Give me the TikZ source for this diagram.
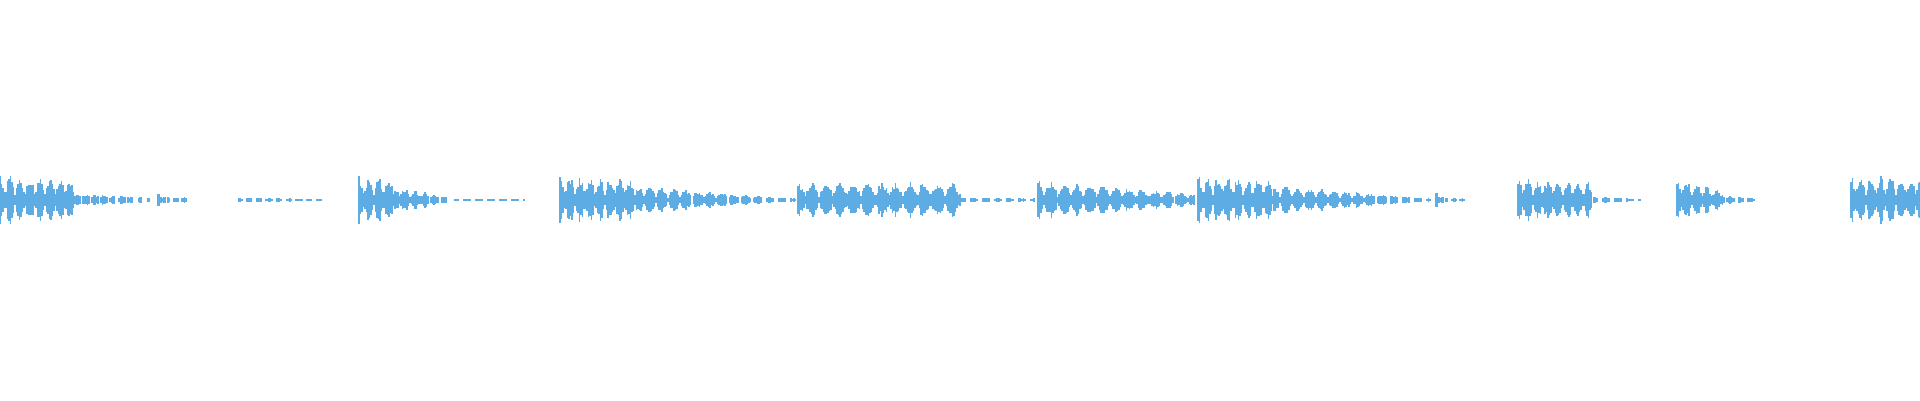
\documentclass[tikz,border=0pt]{standalone}
\definecolor{wavec}{RGB}{94,172,228}
\tikzset{wave/.style={draw=wavec,line width=1.1pt}}
\newcommand\wseg[5]{%
 \pgfmathsetmacro\nb{int((#2-#1)/1.5)}%
 \foreach \i in {0,...,\nb}{%
  \pgfmathsetmacro\xx{#1+1.5*\i}%
  \pgfmathsetmacro\wt{\i/max(\nb,1)}%
  \pgfmathsetmacro\ph{mod(1.5*\i,#5)/#5}%
  \pgfmathsetmacro\cc{abs(cos(180*\ph))}%
  \pgfmathsetmacro\aa{0.6+(#3+(#4-#3)*\wt)*(0.6+0.4*rnd)*(0.25+0.75*\cc)}%
  \pgfmathsetmacro\keep{(\aa>2.2) || (\cc>0.55)}%
  \ifdim\keep pt>0.5pt
   \draw[wave] (\xx,200-\aa) -- (\xx,200+\aa);
  \fi
 }}
\begin{document}
\begin{tikzpicture}[x=1pt,y=1pt]
\pgfmathsetseed{7}
\fill[white] (0,0) rectangle (1920,400);
\useasboundingbox (0,0) rectangle (1920,400);
\wseg{0}{76}{25}{20}{10}
\wseg{77}{150}{6}{2}{9}
\wseg{158}{166}{8}{3}{8}
\wseg{168}{186}{3}{2}{8}
\wseg{239}{322}{2}{0.5}{10}
\wseg{359}{394}{24}{20}{10}
\wseg{395}{447}{13}{3}{10}
\wseg{455}{524}{1}{0.5}{12}
\wseg{560}{637}{24}{20}{10}
\wseg{638}{796}{14}{1}{12}
\wseg{798}{961}{17}{18}{14}
\wseg{962}{1035}{2}{1}{12}
\wseg{1038}{1194}{20}{6}{13}
\wseg{1198}{1273}{25}{20}{10}
\wseg{1274}{1430}{15}{1}{12}
\wseg{1436}{1444}{8}{3}{8}
\wseg{1446}{1464}{2}{1}{8}
\wseg{1518}{1592}{22}{18}{10}
\wseg{1594}{1641}{3}{0.5}{12}
\wseg{1677}{1720}{22}{10}{10}
\wseg{1721}{1757}{5}{0.5}{10}
\wseg{1851}{1920}{24}{22}{10}
\end{tikzpicture}
\end{document}
